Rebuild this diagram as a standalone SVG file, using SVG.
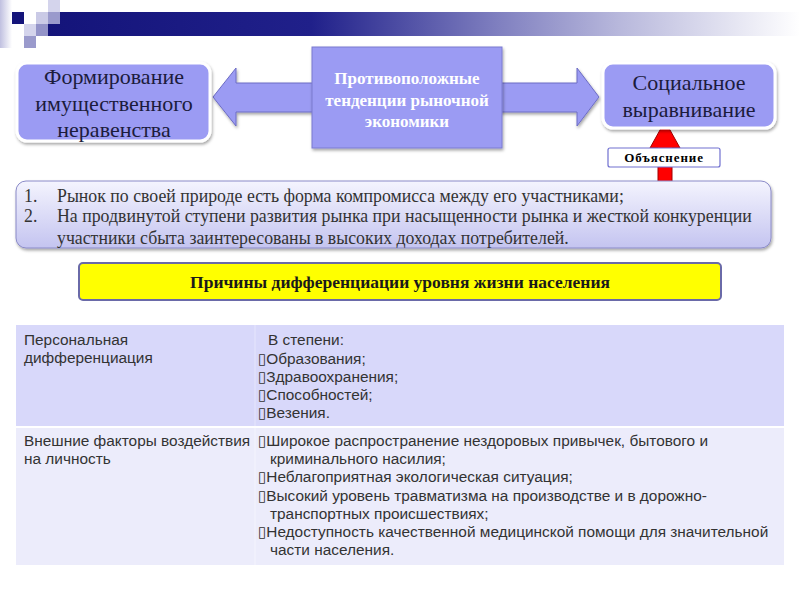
<svg xmlns="http://www.w3.org/2000/svg" width="800" height="600" viewBox="0 0 800 600">
<defs>
<linearGradient id="hdr" x1="0" y1="0" x2="1" y2="0">
<stop offset="0" stop-color="#14147a"/>
<stop offset="0.35" stop-color="#20208a"/>
<stop offset="0.6" stop-color="#8080c0"/>
<stop offset="0.76" stop-color="#b8b8dc"/>
<stop offset="1" stop-color="#ffffff"/>
</linearGradient>
<linearGradient id="strip" x1="0" y1="0" x2="1" y2="0">
<stop offset="0" stop-color="#c0c0e0"/>
<stop offset="1" stop-color="#ffffff"/>
</linearGradient>
<linearGradient id="listfill" x1="0" y1="0" x2="0" y2="1">
<stop offset="0" stop-color="#f4f4fe"/>
<stop offset="1" stop-color="#c4c4f0"/>
</linearGradient>
<filter id="sh" x="-10%" y="-10%" width="120%" height="130%">
<feDropShadow dx="1" dy="2" stdDeviation="1.5" flood-color="#000" flood-opacity="0.35"/>
</filter>
</defs>
<style>
.box{fill:#9b9bf3;stroke:#ffffff;stroke-width:3}
.big{font-family:"Liberation Serif","Times New Roman",serif;font-size:22px;fill:#1c1c3c;text-anchor:middle}
.ctr{font-family:"Liberation Serif","Times New Roman",serif;font-size:17px;font-weight:bold;fill:#ffffff;text-anchor:middle}
.lst{font-family:"Liberation Serif","Times New Roman",serif;font-size:17.8px;fill:#333333}
.tbl{font-family:"Liberation Sans",Arial,sans-serif;font-size:15.4px;fill:#333333}
.bul{font-family:"DejaVu Sans",sans-serif;font-size:15px}
</style>

<g id="header">
<rect x="0" y="0" width="12" height="48" fill="url(#strip)"/>
<rect x="48" y="12" width="752" height="24" fill="url(#hdr)"/>
<rect x="12" y="12" width="12" height="12" fill="#14147a"/>
<rect x="48" y="0" width="12" height="12" fill="#d4d4ec"/>
<rect x="36" y="12" width="12" height="12" fill="#cacae6"/>
<rect x="48" y="12" width="12" height="12" fill="#9a9acc"/>
<rect x="24" y="24" width="12" height="12" fill="#d4d4ec"/>
<rect x="36" y="24" width="12" height="12" fill="#9393c8"/>
<rect x="24" y="36" width="12" height="12" fill="#9a9acc"/>
</g>

<g id="connectors">
<path d="M213,97 L236,68 L236,83 L577,83 L577,68 L599,97 L577,126 L577,112 L236,112 L236,126 Z" fill="#9b9bf3" stroke="#6c6cc4" stroke-width="1" filter="url(#sh)"/>
<path d="M665,121 L680,148 L672,148 L672,183 L658,183 L658,148 L650,148 Z" fill="#ff0000" stroke="#a00000" stroke-width="1"/>
</g>

<g id="left">
<rect x="17" y="63" width="193" height="78" rx="10" class="box" filter="url(#sh)"/>
<text class="big" x="114" y="84">Формирование</text>
<text class="big" x="114" y="111">имущественного</text>
<text class="big" x="114" y="137">неравенства</text>
</g>

<g id="center">
<rect x="312" y="47" width="190" height="101" fill="#9b9bf3" stroke="#7a7ad0" stroke-width="1" filter="url(#sh)"/>
<text class="ctr" x="407" y="84">Противоположные</text>
<text class="ctr" x="407" y="106">тенденции рыночной</text>
<text class="ctr" x="407" y="127">экономики</text>
</g>

<g id="right">
<rect x="603" y="63" width="172" height="65" rx="10" class="box" filter="url(#sh)"/>
<text class="big" x="689" y="90">Социальное</text>
<text class="big" x="689" y="117">выравнивание</text>
</g>

<g id="label">
<rect x="608" y="148" width="112" height="19" rx="2" fill="#ffffff" stroke="#7070d0" stroke-width="1.2"/>
<text x="664" y="162" text-anchor="middle" font-family="Liberation Serif, serif" font-size="13" font-weight="bold" letter-spacing="0.9" fill="#000">Объяснение</text>
</g>

<g id="list">
<rect x="16" y="181" width="755" height="67" rx="10" fill="url(#listfill)" stroke="#8a8ac8" stroke-width="1" filter="url(#sh)"/>
<text class="lst" x="24" y="202">1.</text>
<text class="lst" x="57" y="202">Рынок по своей природе есть форма компромисса между его участниками;</text>
<text class="lst" x="24" y="222">2.</text>
<text class="lst" x="57" y="222">На продвинутой ступени развития рынка при насыщенности рынка и жесткой конкуренции</text>
<text class="lst" x="57" y="244">участники сбыта заинтересованы в высоких доходах потребителей.</text>
</g>

<g id="title">
<rect x="79" y="263" width="642" height="37" rx="4" fill="#ffff00" stroke="#6a6aa8" stroke-width="2"/>
<text x="400" y="288" text-anchor="middle" font-family="Liberation Serif, serif" font-size="17.5" font-weight="bold" fill="#1a1a1a">Причины дифференциации уровня жизни населения</text>
</g>

<g id="table">
<rect x="16" y="325" width="768" height="101" fill="#d8d8fa"/>
<rect x="16" y="428" width="768" height="137" fill="#ececfb"/>
<line x1="255" y1="325" x2="255" y2="426" stroke="#e6e6fc" stroke-width="1"/>
<line x1="255" y1="428" x2="255" y2="565" stroke="#f4f4fd" stroke-width="1"/>
<text class="tbl" x="24" y="345">Персональная</text>
<text class="tbl" x="24" y="363">дифференциация</text>
<text class="tbl" x="268" y="345">В степени:</text>
<text class="tbl" x="258" y="364"><tspan class="bul">▯</tspan>Образования;</text>
<text class="tbl" x="258" y="382"><tspan class="bul">▯</tspan>Здравоохранения;</text>
<text class="tbl" x="258" y="400"><tspan class="bul">▯</tspan>Способностей;</text>
<text class="tbl" x="258" y="418"><tspan class="bul">▯</tspan>Везения.</text>
<text class="tbl" x="24" y="446">Внешние факторы воздействия</text>
<text class="tbl" x="24" y="464">на личность</text>
<text class="tbl" x="258" y="446"><tspan class="bul">▯</tspan>Широкое распространение нездоровых привычек, бытового и</text>
<text class="tbl" x="270" y="464">криминального насилия;</text>
<text class="tbl" x="258" y="482"><tspan class="bul">▯</tspan>Неблагоприятная экологическая ситуация;</text>
<text class="tbl" x="258" y="501"><tspan class="bul">▯</tspan>Высокий уровень травматизма на производстве и в дорожно-</text>
<text class="tbl" x="270" y="519">транспортных происшествиях;</text>
<text class="tbl" x="258" y="537"><tspan class="bul">▯</tspan>Недоступность качественной медицинской помощи для значительной</text>
<text class="tbl" x="270" y="555">части населения.</text>
</g>
</svg>
